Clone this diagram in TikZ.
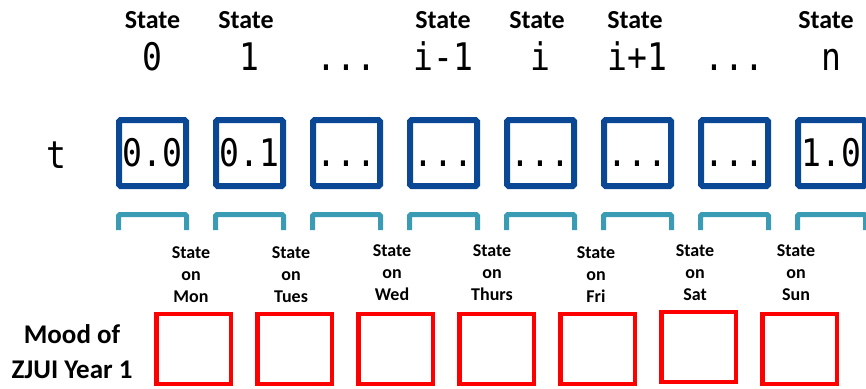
\documentclass[tikz,border=0pt]{standalone}
\usepackage{fontspec}
\setmainfont{Carlito}
\newfontfamily\codefont[FakeStretch=0.87]{DejaVu Sans Mono}
\definecolor{cellblue}{RGB}{10,72,150}
\definecolor{braceteal}{RGB}{58,155,180}
\definecolor{moodred}{RGB}{255,0,0}

\begin{document}
\begin{tikzpicture}[x=1pt,y=-1pt,
  cell/.style={draw=cellblue,line width=6pt,rounded corners=1.5pt,minimum width=67pt,minimum height=66pt,inner sep=0pt,font=\codefont\fontsize{38}{40}\selectfont,text height=27.5pt,text depth=0pt},
  brace/.style={draw=braceteal,line width=5pt,rounded corners=1.5pt},
  moodbox/.style={draw=moodred,line width=4.5pt,minimum width=74.5pt,minimum height=70pt,inner sep=0pt},
  head/.style={font=\bfseries\fontsize{26}{30}\selectfont,inner sep=0pt},
  idx/.style={font=\codefont\fontsize{38}{40}\selectfont,anchor=base,inner sep=0pt},
  day/.style={align=center,font=\bfseries\fontsize{18}{22}\selectfont,inner sep=0pt}]
  \useasboundingbox (0,0) rectangle (866,388);

  % state headings
  \node[head] (h0) at (152.5,20) {State};
  \node[head] (h1) at (246,20) {State};
  \node[head] (h3) at (443,20) {State};
  \node[head] (h4) at (537,20) {State};
  \node[head] (h5) at (635,20) {State};
  \node[head] (h7) at (826,20) {State};
  \node[idx] (n0) at (152.5,70) {0};
  \node[idx] (n1) at (249.5,70) {1};
  \node[idx] (n2) at (346.5,70) {...};
  \node[idx] (n3) at (443.5,70) {i-1};
  \node[idx] (n4) at (540.5,70) {i};
  \node[idx] (n5) at (637.5,70) {i+1};
  \node[idx] (n6) at (734.5,70) {...};
  \node[idx] (n7) at (831.5,70) {n};

  % row of t values
  \node[idx] (t) at (56,168) {t};
  \node[cell] (c0) at (152.5,153) {0.0};
  \node[cell] (c1) at (249.5,153) {0.1};
  \node[cell] (c2) at (346.5,153) {...};
  \node[cell] (c3) at (443.5,153) {...};
  \node[cell] (c4) at (540.5,153) {...};
  \node[cell] (c5) at (637.5,153) {...};
  \node[cell] (c6) at (734.5,153) {...};
  \node[cell] (c7) at (831.5,153) {1.0};

  % open brackets under the cells
  \draw[brace] (118.5,230) -- (118.5,214.5) -- (186.5,214.5) -- (186.5,230);
  \draw[brace] (215.5,230) -- (215.5,214.5) -- (283.5,214.5) -- (283.5,230);
  \draw[brace] (312.5,230) -- (312.5,214.5) -- (380.5,214.5) -- (380.5,230);
  \draw[brace] (409.5,230) -- (409.5,214.5) -- (477.5,214.5) -- (477.5,230);
  \draw[brace] (506.5,230) -- (506.5,214.5) -- (574.5,214.5) -- (574.5,230);
  \draw[brace] (603.5,230) -- (603.5,214.5) -- (671.5,214.5) -- (671.5,230);
  \draw[brace] (700.5,230) -- (700.5,214.5) -- (768.5,214.5) -- (768.5,230);
  \draw[brace] (797.5,230) -- (797.5,214.5) -- (865.5,214.5) -- (865.5,230);

  % days of the week
  \node[day] (dmon) at (191,275) {State\\on\\Mon};
  \node[day] (dtue) at (291,275) {State\\on\\Tues};
  \node[day] (dwed) at (392,273) {State\\on\\Wed};
  \node[day] (dthu) at (492,273) {State\\on\\Thurs};
  \node[day] (dfri) at (596,275) {State\\on\\Fri};
  \node[day] (dsat) at (695,273) {State\\on\\Sat};
  \node[day] (dsun) at (796,273) {State\\on\\Sun};

  \node[align=center,font=\bfseries\fontsize{27}{35}\selectfont,inner sep=0pt] (mood) at (72,352) {Mood of\\ZJUI Year 1};
  \node[moodbox] (m0) at (193.5,349) {};
  \node[moodbox] (m1) at (294.5,349) {};
  \node[moodbox] (m2) at (395.5,349) {};
  \node[moodbox] (m3) at (496.5,349) {};
  \node[moodbox] (m4) at (597.5,349) {};
  \node[moodbox] (m5) at (698.5,347) {};
  \node[moodbox] (m6) at (799.5,349) {};
\end{tikzpicture}
\end{document}
